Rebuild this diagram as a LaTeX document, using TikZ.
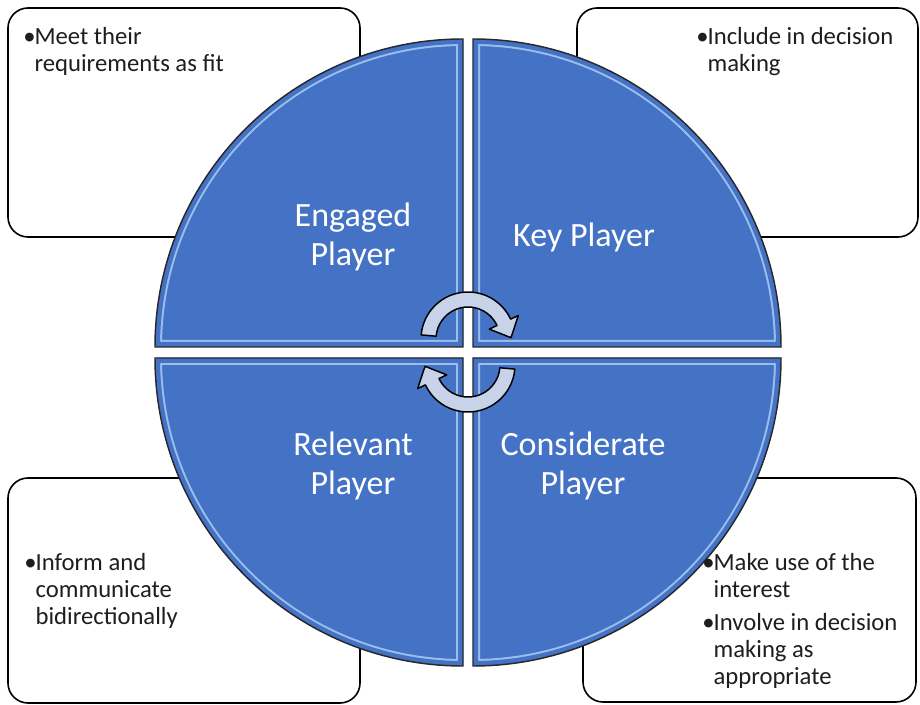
\documentclass[tikz,border=0pt]{standalone}
\usepackage{fontspec}
\setmainfont{Carlito}
\usepackage{xcolor}
\usepackage{tikz}
\usetikzlibrary{calc}
\definecolor{quadblue}{RGB}{68,114,196}
\definecolor{quadlight}{RGB}{172,204,244}
\definecolor{quadedge}{RGB}{40,40,45}
\definecolor{cycfill}{RGB}{200,211,233}
\definecolor{notetext}{RGB}{30,30,30}
\tikzset{ note_box/.style = {draw=black, line width=1.2pt, rounded corners=15pt, fill=white} }
\tikzset{ note_txt/.style = {anchor=north west, inner sep=0pt, align=left, text=notetext, font=\fontsize{18.5}{20.3}\selectfont} }
\tikzset{ quad_lbl/.style = {align=center, text=white, font=\fontsize{25.5}{29.5}\selectfont} }
\tikzset{ cyc_arrow/.style = {fill=cycfill, draw=black, line width=1.1pt, line join=round} }
\newcommand{\bul}{\makebox[8.5pt][l]{\textbullet}}
\newcommand{\ind}{\hspace*{8.5pt}}

\begin{document}
\begin{tikzpicture}[x=0.75pt,y=-0.75pt]
        \useasboundingbox (0,0) rectangle (920,705);
        % boxes behind the circle
        \draw[note_box] (8,8) rectangle (360,237);
        \draw[note_box] (577,8) rectangle (918,237);
        \draw[note_box] (8,478) rectangle (360,703);
        \draw[note_box] (583,478) rectangle (916,702);
        % four quarters with a light bevel line inside
        \foreach \cx/\cy/\sa in {463/347/180, 473/347/270, 463/358/90, 473/358/0} {
            \begin{scope}
                \clip (\cx,\cy) -- ++(\sa:308) arc[start angle=\sa, end angle=\sa+90, radius=308] -- cycle;
                \fill[quadblue] (\cx,\cy) -- ++(\sa:308) arc[start angle=\sa, end angle=\sa+90, radius=308] -- cycle;
                \draw[quadlight, opacity=0.85, line width=10.5pt] (\cx,\cy) -- ++(\sa:308) arc[start angle=\sa, end angle=\sa+90, radius=308] -- cycle;
                \draw[quadblue, line width=7.5pt] (\cx,\cy) -- ++(\sa:308) arc[start angle=\sa, end angle=\sa+90, radius=308] -- cycle;
            \end{scope}
            \draw[quadedge, line width=1.1pt] (\cx,\cy) -- ++(\sa:308) arc[start angle=\sa, end angle=\sa+90, radius=308] -- cycle;
        }
        \node[quad_lbl] (q1) at (353,237) {Engaged\\Player};
        \node[quad_lbl] (q2) at (584,237) {Key Player};
        \node[quad_lbl] (q3) at (353,466) {Relevant\\Player};
        \node[quad_lbl] (q4) at (583,466) {Considerate\\Player};
        % the two turning arrows in the middle
        \coordinate (ta) at (468,339);
        \coordinate (ba) at (468,365);
        \draw[cyc_arrow] ([shift={(185:47)}]ta) arc[start angle=185, end angle=335, radius=47]
            -- ([shift={(50.3,-23.5)}]ta) -- ([shift={(43,-1.3)}]ta) -- ([shift={(21.3,-9.9)}]ta)
            -- ([shift={(335:32)}]ta) arc[start angle=335, end angle=185, radius=32] -- cycle;
        \draw[cyc_arrow] ([shift={(5:47)}]ba) arc[start angle=5, end angle=155, radius=47]
            -- ([shift={(-50.3,23.5)}]ba) -- ([shift={(-43,1.3)}]ba) -- ([shift={(-21.3,9.9)}]ba)
            -- ([shift={(155:32)}]ba) arc[start angle=155, end angle=5, radius=32] -- cycle;
        % box texts
        \node[note_txt] (b1) at (23,27) {\bul Meet their\\\ind requirements as fit};
        \node[note_txt] (b2) at (696,27) {\bul Include in decision\\\ind making};
        \node[note_txt] (b3) at (24,553) {\bul Inform and\\\ind communicate\\\ind bidirectionally};
        \node[note_txt] (b4) at (702,553) {\bul Make use of the\\\ind interest\\[4.5pt]\bul Involve in decision\\\ind making as\\\ind appropriate};
        \end{tikzpicture}
\end{document}
